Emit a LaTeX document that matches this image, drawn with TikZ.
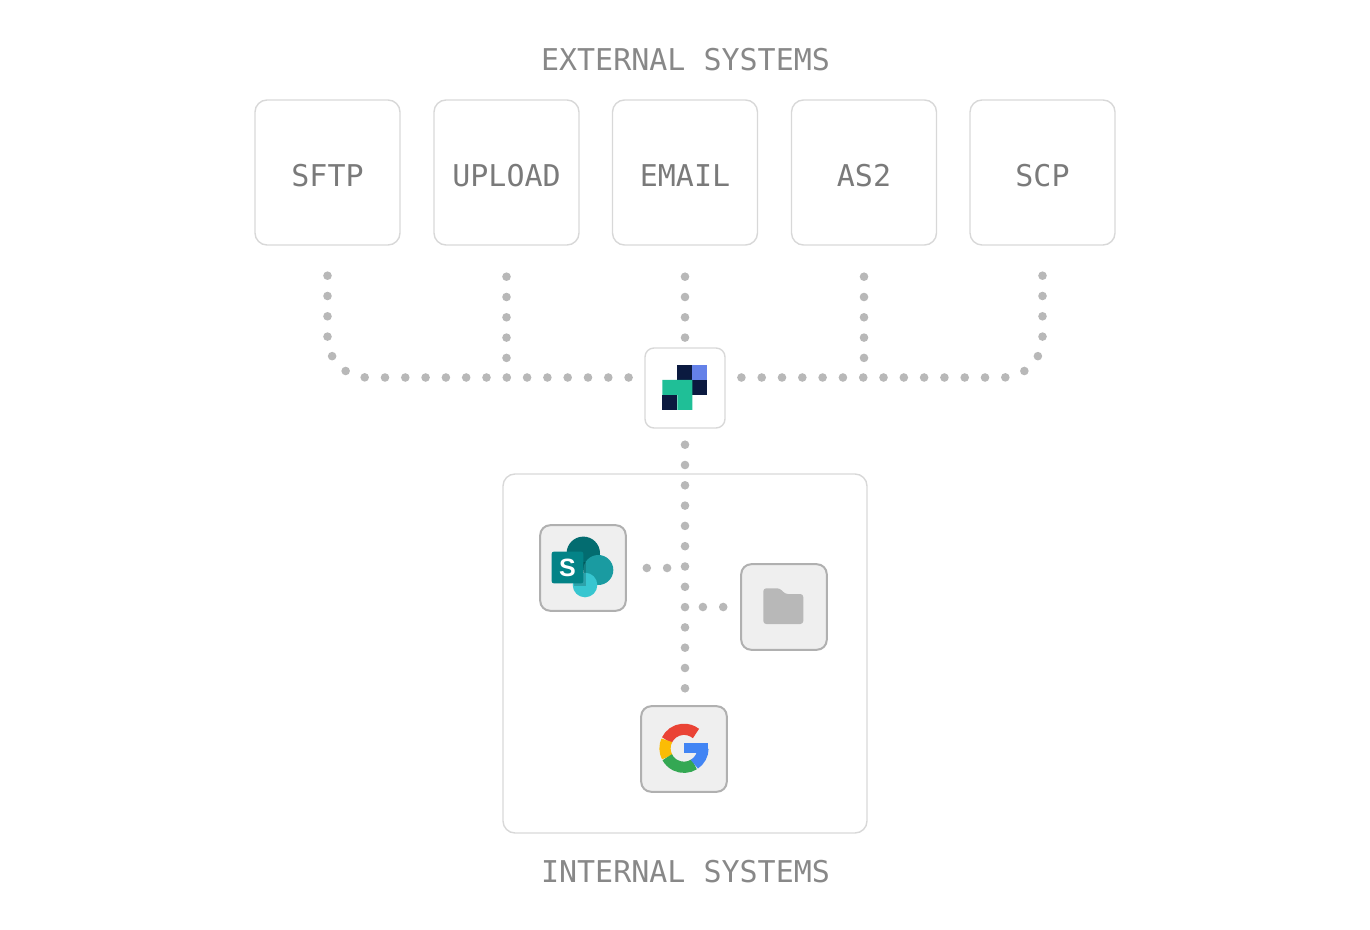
\documentclass[tikz,border=0pt]{standalone}
\usepackage{fontspec}
\setmonofont{DejaVu Sans Mono}
\setsansfont{Liberation Sans}
\definecolor{boxline}{HTML}{D8D8D8}
\definecolor{tileline}{HTML}{B0B0B0}
\definecolor{tilefill}{HTML}{EFEFEF}
\definecolor{dotgrey}{HTML}{B8B8B8}
\definecolor{labelgrey}{HTML}{7A7A7A}
\definecolor{titlegrey}{HTML}{888888}
\definecolor{navy}{HTML}{0B1A40}
\definecolor{logoblue}{HTML}{6481E8}
\definecolor{logogreen}{HTML}{1FBF97}
\definecolor{spdark}{HTML}{036C70}
\definecolor{spmid}{HTML}{1A9BA1}
\definecolor{splight}{HTML}{37C6D0}
\definecolor{spsquare}{HTML}{038387}
\definecolor{gred}{HTML}{EA4335}
\definecolor{gyellow}{HTML}{FBBC05}
\definecolor{ggreen}{HTML}{34A853}
\definecolor{gblue}{HTML}{4285F4}
\tikzset{
  sysbox/.style={draw=boxline,line width=0.7pt,rounded corners=6pt,minimum size=72.5pt,inner sep=0pt,
    font=\ttfamily\fontsize{15}{15}\selectfont,text=labelgrey,text height=14.5pt,text depth=0pt},
  tile/.style={draw=tileline,fill=tilefill,line width=1pt,rounded corners=5pt,minimum size=42.8pt,inner sep=0pt},
  title/.style={font=\ttfamily\fontsize{15}{15}\selectfont,text=titlegrey},
  dotline/.style={draw=dotgrey,line width=4.3pt,line cap=round,dash pattern=on 0pt off 10.15pt},
  garc/.style={line width=5.6pt,line cap=butt}
}
\begin{document}
\begin{tikzpicture}[x=0.5pt,y=-0.5pt]
\useasboundingbox (0,0) rectangle (1370,930);
% external systems
\node[title] (exttitle) at (685.5,60) {EXTERNAL SYSTEMS};
\node[sysbox] (sftp) at (327.5,172.5) {SFTP};
\node[sysbox] (upload) at (506.5,172.5) {UPLOAD};
\node[sysbox] (email) at (685,172.5) {EMAIL};
\node[sysbox] (astwo) at (864,172.5) {AS2};
\node[sysbox] (scp) at (1042.5,172.5) {SCP};
% hub
\node[sysbox,minimum size=40pt,rounded corners=4.5pt] (hub) at (685,388) {};
\coordinate (hubleft) at (645,377.5);
\coordinate (hubright) at (725,377.5);
\fill[navy] (677.3,365) rectangle (692.3,380);
\fill[logoblue] (692.3,365) rectangle (707.3,380);
\fill[navy] (692.3,380) rectangle (707.3,395);
\fill[logogreen] (662.3,380) -- (692.3,380) -- (692.3,410) -- (677.3,410) -- (677.3,395) -- (662.3,395) -- cycle;
\fill[navy] (662.3,395) rectangle (677.3,410);
% internal systems
\node[sysbox,minimum width=182pt,minimum height=179.5pt] (internal) at (685,653.5) {};
\node[title] (inttitle) at (685.5,872) {INTERNAL SYSTEMS};
\node[tile] (sharepoint) at (583,568) {};
\node[tile] (folder) at (784,607) {};
\node[tile] (google) at (684,749) {};
% connectors
\draw[dotline,rounded corners=20pt,shorten <=15pt,shorten >=6pt] (sftp.south) |- (hubleft);
\draw[dotline,rounded corners=20pt,shorten <=15pt,shorten >=6pt] (scp.south) |- (hubright);
\draw[dotline,shorten <=15.5pt,shorten >=4pt] (upload.south) -- (upload.south |- hubleft);
\draw[dotline,shorten <=15.5pt] (email.south) -- (hub.north);
\draw[dotline,shorten <=15.5pt,shorten >=4pt] (astwo.south) -- (astwo.south |- hubright);
\draw[dotline,shorten <=8pt,shorten >=6pt] (hub.south) -- (hub.south |- google.north);
\draw[dotline,shorten <=10pt,shorten >=4pt] (sharepoint.east) -- (sharepoint.east -| hub.south);
\draw[dotline,shorten <=8.5pt,shorten >=4pt] (folder.west) -- (folder.west -| hub.south);
% sharepoint icon
\fill[spdark] (583.3,553.3) circle (8.35pt);
\fill[spmid] (598.3,570) circle (7.5pt);
\fill[splight] (585,585) circle (6.15pt);
\fill[black,opacity=0.18] (574,562) rectangle (586,586);
\fill[spsquare,rounded corners=1pt] (551.7,551.7) rectangle (583.3,583.3);
\node[font=\sffamily\bfseries\fontsize{12.5}{12.5}\selectfont,text=white,inner sep=0pt] (sletter) at (567.5,567.5) {S};
% folder icon
\fill[tileline!90!white,rounded corners=1.5pt] (763.3,588.3) -- (780,588.3) -- (785,594) -- (803.3,594) -- (803.3,624) -- (763.3,624) -- cycle;
% google icon
\draw[garc,draw=gred] (684,748.3) ++(155:9.5pt) arc (155:51:9.5pt);
\draw[garc,draw=gyellow] (684,748.3) ++(208:9.5pt) arc (208:155:9.5pt);
\draw[garc,draw=ggreen] (684,748.3) ++(303:9.5pt) arc (303:208:9.5pt);
\draw[garc,draw=gblue] (684,748.3) ++(360:9.5pt) arc (360:303:9.5pt);
\fill[gblue] (684.3,743.3) rectangle (708,753);
\end{tikzpicture}
\end{document}
